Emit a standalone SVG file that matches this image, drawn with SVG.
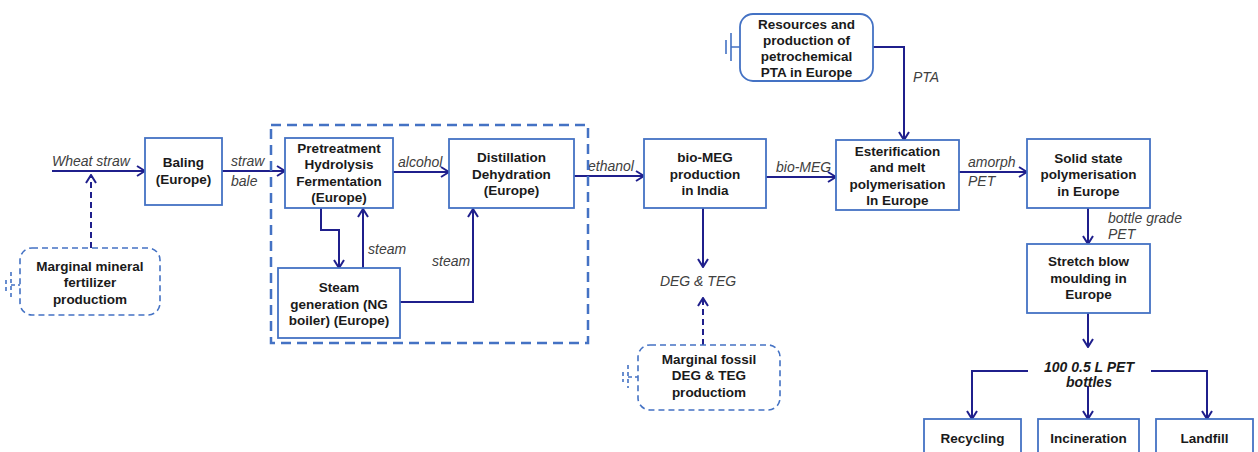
<svg xmlns="http://www.w3.org/2000/svg" width="1258" height="452" viewBox="0 0 1258 452">
<defs>
<marker id="arr" viewBox="0 0 10 12" refX="9" refY="6" markerWidth="10" markerHeight="12" orient="auto" markerUnits="userSpaceOnUse">
<path d="M1,1 L9,6 L1,11" fill="none" stroke="#1f1f8c" stroke-width="2"/>
</marker>
</defs>
<style>
.box{fill:#fff;stroke:#4472c4;stroke-width:1.8}
.dbox{fill:#fff;stroke:#4472c4;stroke-width:1.6;stroke-dasharray:6 4}
.big{fill:none;stroke:#4472c4;stroke-width:2.5;stroke-dasharray:10 6}
.t{font-family:"Liberation Sans",Arial,sans-serif;font-size:13.5px;font-weight:bold;fill:#1a1a1a;text-anchor:middle}
.l{font-family:"Liberation Sans",Arial,sans-serif;font-size:14px;font-style:italic;fill:#404040}
.bl{font-family:"Liberation Sans",Arial,sans-serif;font-size:14px;font-style:italic;font-weight:bold;fill:#1a1a1a;text-anchor:middle}
.c{fill:none;stroke:#1f1f8c;stroke-width:2}
.cd{fill:none;stroke:#1f1f8c;stroke-width:2;stroke-dasharray:6 4}
.g{fill:none;stroke:#4472c4;stroke-width:1.6}
.gd{fill:none;stroke:#4472c4;stroke-width:1.6;stroke-dasharray:4 3}
</style>
<rect width="1258" height="452" fill="#fff"/>

<g id="connectors">
<path class="c" d="M52,171 H145" marker-end="url(#arr)"/>
<path class="cd" d="M91,248 V175" marker-end="url(#arr)"/>
<path class="c" d="M222,171 H285" marker-end="url(#arr)"/>
<path class="c" d="M393,172 H449" marker-end="url(#arr)"/>
<path class="c" d="M321,208 V230 H339 V268" marker-end="url(#arr)"/>
<path class="c" d="M363,268 V209" marker-end="url(#arr)"/>
<path class="c" d="M400,302 H473 V209" marker-end="url(#arr)"/>
<path class="c" d="M574,176 H644" marker-end="url(#arr)"/>
<path class="c" d="M703,208 V267" marker-end="url(#arr)"/>
<path class="cd" d="M703,345 V298" marker-end="url(#arr)"/>
<path class="c" d="M766,177 H836" marker-end="url(#arr)"/>
<path class="c" d="M873,47 H904 V140" marker-end="url(#arr)"/>
<path class="c" d="M959,172 H1027" marker-end="url(#arr)"/>
<path class="c" d="M1088,208 V244" marker-end="url(#arr)"/>
<path class="c" d="M1088,313 V347" marker-end="url(#arr)"/>
<path class="c" d="M1028,371 H972 V419" marker-end="url(#arr)"/>
<path class="c" d="M1151,371 H1207 V419" marker-end="url(#arr)"/>
<path class="c" d="M1088,386 V419" marker-end="url(#arr)"/>
</g>

<g id="labels">
<text class="l" x="52" y="166">Wheat straw</text>
<text class="l" x="231" y="166">straw</text>
<text class="l" x="231" y="186">bale</text>
<text class="l" x="398" y="167">alcohol</text>
<text class="l" x="368" y="254">steam</text>
<text class="l" x="432" y="266">steam</text>
<text class="l" x="588" y="171">ethanol</text>
<text class="l" x="698" y="286" text-anchor="middle">DEG &amp; TEG</text>
<text class="l" x="776" y="172">bio-MEG</text>
<text class="l" x="913" y="82">PTA</text>
<text class="l" x="968" y="167">amorph</text>
<text class="l" x="968" y="186">PET</text>
<text class="l" x="1108" y="223">bottle grade</text>
<text class="l" x="1108" y="239">PET</text>
<text class="bl" x="1089" y="372">100 0.5 L PET</text>
<text class="bl" x="1089" y="387">bottles</text>
</g>

<rect class="big" x="271" y="125" width="317" height="218"/>

<g id="baling">
<rect class="box" x="145" y="138" width="77" height="67"/>
<text class="t" x="183.5" y="167">Baling</text>
<text class="t" x="183.5" y="184">(Europe)</text>
</g>

<g id="fertilizer">
<rect class="dbox" x="20" y="248" width="140" height="67" rx="12"/>
<path class="gd" d="M11,272 V298 M6,280 V292 M11,285 H20"/>
<text class="t" x="90" y="271">Marginal mineral</text>
<text class="t" x="90" y="287">fertilizer</text>
<text class="t" x="90" y="304">productiom</text>
</g>

<g id="pretreatment">
<rect class="box" x="285" y="138" width="108" height="70"/>
<text class="t" x="339" y="153">Pretreatment</text>
<text class="t" x="339" y="169">Hydrolysis</text>
<text class="t" x="339" y="186">Fermentation</text>
<text class="t" x="339" y="202">(Europe)</text>
</g>

<g id="distillation">
<rect class="box" x="449" y="139" width="125" height="69"/>
<text class="t" x="511.5" y="162">Distillation</text>
<text class="t" x="511.5" y="179">Dehydration</text>
<text class="t" x="511.5" y="195">(Europe)</text>
</g>

<g id="steam">
<rect class="box" x="278" y="268" width="122" height="70"/>
<text class="t" x="339" y="292">Steam</text>
<text class="t" x="339" y="309">generation (NG</text>
<text class="t" x="339" y="325">boiler) (Europe)</text>
</g>

<g id="biomeg">
<rect class="box" x="644" y="139" width="122" height="69"/>
<text class="t" x="705" y="162">bio-MEG</text>
<text class="t" x="705" y="179">production</text>
<text class="t" x="705" y="195">in India</text>
</g>

<g id="fossil">
<rect class="dbox" x="638" y="345" width="142" height="65" rx="12"/>
<path class="gd" d="M628,365 V388 M623,372 V382 M628,377 H638"/>
<text class="t" x="709" y="364">Marginal fossil</text>
<text class="t" x="709" y="380">DEG &amp; TEG</text>
<text class="t" x="709" y="397">productiom</text>
</g>

<g id="pta">
<rect class="box" x="740" y="14" width="133" height="67" rx="13"/>
<path class="g" d="M731,33 V61 M726,40 V54 M731,47 H740"/>
<text class="t" x="806.5" y="29">Resources and</text>
<text class="t" x="806.5" y="45">production of</text>
<text class="t" x="806.5" y="61">petrochemical</text>
<text class="t" x="806.5" y="77">PTA in Europe</text>
</g>

<g id="esterification">
<rect class="box" x="836" y="140" width="123" height="70"/>
<text class="t" x="897.5" y="156">Esterification</text>
<text class="t" x="897.5" y="172">and melt</text>
<text class="t" x="897.5" y="189">polymerisation</text>
<text class="t" x="897.5" y="205">In Europe</text>
</g>

<g id="ssp">
<rect class="box" x="1027" y="139" width="123" height="69"/>
<text class="t" x="1088.5" y="163">Solid state</text>
<text class="t" x="1088.5" y="179">polymerisation</text>
<text class="t" x="1088.5" y="196">in Europe</text>
</g>

<g id="blow">
<rect class="box" x="1027" y="244" width="123" height="69"/>
<text class="t" x="1088.5" y="266">Stretch blow</text>
<text class="t" x="1088.5" y="283">moulding  in</text>
<text class="t" x="1088.5" y="299">Europe</text>
</g>

<g id="recycling">
<rect class="box" x="924" y="419" width="97" height="40"/>
<text class="t" x="972.5" y="443">Recycling</text>
</g>
<g id="incineration">
<rect class="box" x="1038" y="419" width="101" height="40"/>
<text class="t" x="1088.5" y="443">Incineration</text>
</g>
<g id="landfill">
<rect class="box" x="1156" y="419" width="97" height="40"/>
<text class="t" x="1204.5" y="443">Landfill</text>
</g>
</svg>
